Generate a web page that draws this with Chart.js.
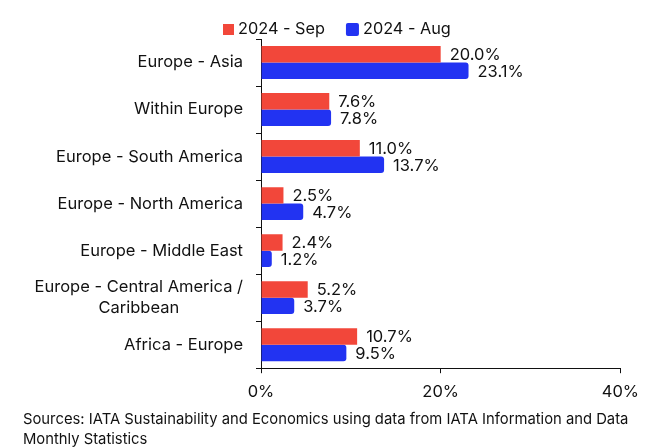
<!DOCTYPE html>
<html>
<head>
<meta charset="utf-8">
<script src="https://cdn.jsdelivr.net/npm/chart.js@4"></script>
<style>
  html,body{margin:0;padding:0;background:#fff;}
  #wrap{width:648px;height:448px;position:relative;}
</style>
</head>
<body>
<div id="wrap"><canvas id="chart" width="648" height="448"></canvas></div>
<script>
var routes = [
  'Europe - Asia',
  'Within Europe',
  'Europe - South America',
  'Europe - North America',
  'Europe - Middle East',
  ['Europe - Central America /', 'Caribbean'],
  'Africa - Europe'
]
var sep2024 = [20.0, 7.6, 11.0, 2.5, 2.4, 5.2, 10.7]
var aug2024 = [23.1, 7.8, 13.7, 4.7, 1.2, 3.7, 9.5]
var xTicks = [0, 20, 40]
var sourceLines = [
  'Sources: IATA Sustainability and Economics using data from IATA Information and Data',
  'Monthly Statistics'
]

var FONT = 'Inter, "Noto Sans", sans-serif'
var INK = '#111'
var RED = '#F2473A'
var BLUE = '#2233F2'
Chart.defaults.font.family = FONT
Chart.defaults.color = INK

// value labels at the end of each bar
var barLabels = {
  id: 'barLabels',
  afterDatasetsDraw: function(chart){
    var ctx = chart.ctx
    ctx.save()
    ctx.font = '16.5px ' + FONT
    ctx.fillStyle = INK
    ctx.textAlign = 'left'
    ctx.textBaseline = 'middle'
    chart.data.datasets.forEach(function(ds, di){
      chart.getDatasetMeta(di).data.forEach(function(bar, i){
        ctx.fillText(ds.data[i].toFixed(1) + '%', bar.x + 9, bar.y + 1)
      })
    })
    ctx.restore()
  }
}

// category names, multi-line ones centred on themselves
var routeLabels = {
  id: 'routeLabels',
  afterDraw: function(chart){
    var ctx = chart.ctx
    var y = chart.scales.y
    var right = chart.chartArea.left - 18
    ctx.save()
    ctx.font = '16.5px ' + FONT
    ctx.fillStyle = INK
    ctx.textBaseline = 'middle'
    routes.forEach(function(lab, i){
      var cy = y.getPixelForTick(i)
      if (Array.isArray(lab)) {
        var w = Math.max.apply(null, lab.map(function(t){ return ctx.measureText(t).width }))
        var lh = 21
        ctx.textAlign = 'center'
        lab.forEach(function(t, k){
          ctx.fillText(t, right - w / 2, cy + (k - (lab.length - 1) / 2) * lh)
        })
      } else {
        ctx.textAlign = 'right'
        ctx.fillText(lab, right, cy)
      }
    })
    ctx.restore()
  }
}

// legend row above the plot
var topLegend = {
  id: 'topLegend',
  afterDraw: function(chart){
    var ctx = chart.ctx
    var x = 223, cy = 29.5
    ctx.save()
    ctx.font = '16.3px ' + FONT
    ctx.textBaseline = 'middle'
    ctx.textAlign = 'left'
    chart.data.datasets.forEach(function(ds, di){
      var s = di === 0 ? 11 : 13
      ctx.fillStyle = ds.backgroundColor
      ctx.beginPath()
      ctx.roundRect(x, cy - s / 2, s, s, di === 0 ? 0 : 2)
      ctx.fill()
      x += s + 4
      ctx.fillStyle = INK
      ctx.fillText(ds.label, x, cy)
      x += ctx.measureText(ds.label).width + 21
    })
    ctx.restore()
  }
}

var sourceNote = {
  id: 'sourceNote',
  afterDraw: function(chart){
    var ctx = chart.ctx
    ctx.save()
    ctx.font = '14.8px ' + FONT
    ctx.fillStyle = INK
    ctx.textAlign = 'left'
    ctx.textBaseline = 'middle'
    sourceLines.forEach(function(t, k){
      ctx.fillText(t, 23, 420 + k * 19.5)
    })
    ctx.restore()
  }
}

new Chart(document.getElementById('chart'), {
  type: 'bar',
  data: {
    labels: routes,
    datasets: [
      {label: '2024 - Sep', data: sep2024, backgroundColor: RED, borderRadius: 0},
      {label: '2024 - Aug', data: aug2024, backgroundColor: BLUE, borderRadius: 3}
    ]
  },
  options: {
    responsive: false,
    animation: false,
    indexAxis: 'y',
    layout: {padding: {left: 0, right: 26, top: 39, bottom: 37}},
    datasets: {bar: {categoryPercentage: 0.7, barPercentage: 1}},
    plugins: {
      legend: {display: false},
      tooltip: {enabled: false}
    },
    scales: {
      x: {
        min: 0, max: 40,
        afterBuildTicks: function(s){ s.ticks = xTicks.map(function(v){ return {value: v} }) },
        grid: {drawOnChartArea: false, tickLength: 5, color: INK},
        border: {color: INK, width: 1},
        ticks: {font: {size: 16.5}, padding: 9, callback: function(v){ return v + '%' }}
      },
      y: {
        grid: {drawOnChartArea: false, offset: true, tickLength: 5, color: INK},
        border: {color: INK, width: 1},
        ticks: {display: false},
        afterFit: function(s){ s.width = 261 }
      }
    }
  },
  plugins: [barLabels, routeLabels, topLegend, sourceNote]
})
</script>
</body>
</html>
